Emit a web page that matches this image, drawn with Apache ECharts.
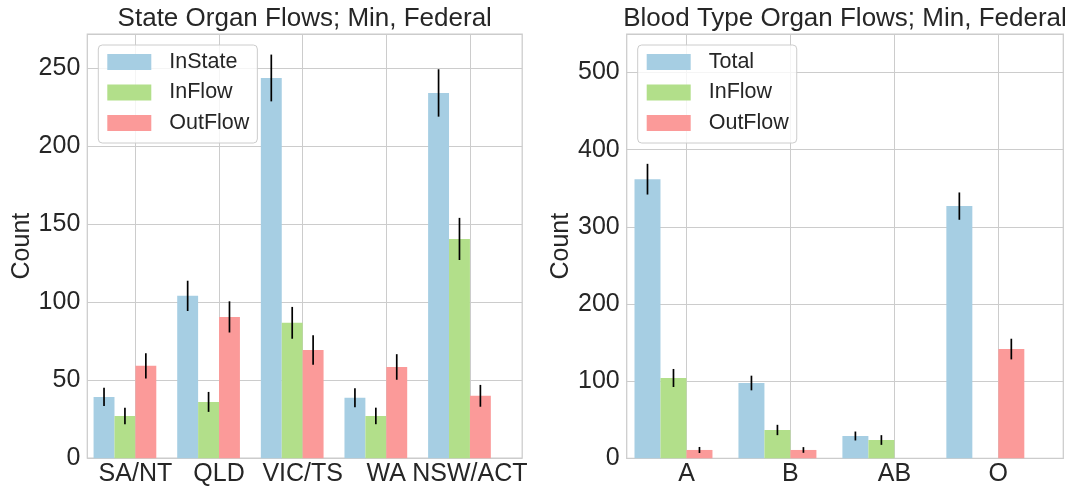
<!DOCTYPE html>
<html><head><meta charset="utf-8">
<script src="https://cdn.jsdelivr.net/npm/echarts@6/dist/echarts.min.js"></script>
<style>html,body{margin:0;padding:0;background:#fff}#c{width:1077px;height:489px}</style>
</head><body><div id="c"></div>
<script>
// ---- Data: left panel (state flows) ----
const stateCategories = ['SA/NT', 'QLD', 'VIC/TS', 'WA', 'NSW/ACT'];
const stateInState    = [39.3, 104.1, 243.8, 38.7, 234.2];
const stateInStateErr = [5.9, 9.7, 15.0, 6.1, 15.2];
const stateInFlow     = [27.1, 36.1, 86.8, 27.1, 140.6];
const stateInFlowErr  = [5.3, 6.4, 10.2, 5.3, 13.5];
const stateOutFlow    = [59.2, 90.6, 69.4, 58.5, 40.0];
const stateOutFlowErr = [8.1, 10.0, 9.5, 8.2, 7.0];
const stateYTicks     = [0, 50, 100, 150, 200, 250];

// ---- Data: right panel (blood type flows) ----
const bloodCategories = ['A', 'B', 'AB', 'O'];
const bloodTotal      = [361.8, 97.6, 28.9, 326.9];
const bloodTotalErr   = [19.9, 9.5, 5.8, 17.7];
const bloodInFlow     = [104.1, 36.7, 23.7, 0];
const bloodInFlowErr  = [11.7, 6.7, 6.3, 0];
const bloodOutFlow    = [10.8, 10.8, 0, 141.6];
const bloodOutFlowErr = [3.9, 3.7, 0, 13.4];
const bloodYTicks     = [0, 100, 200, 300, 400, 500];

// ---- Styling / layout ----
const FONT = "'Liberation Sans', Arial, sans-serif";
const TXT = '#262626';
const GRIDC = '#cccccc';
const COLORS = ['#a6cee3', '#b2df8a', '#fb9a99'];
const OFFSETS = [-0.375, -0.125, 0.125];
const panels = [
  {left: 87.3, right: 522.2, top: 34, bottom: 458.2, ymax: 272, interval: 50,
   cats: stateCategories, ticks: stateYTicks,
   names: ['InState', 'InFlow', 'OutFlow'],
   vals: [stateInState, stateInFlow, stateOutFlow],
   errs: [stateInStateErr, stateInFlowErr, stateOutFlowErr],
   title: 'State Organ Flows; Min, Federal'},
  {left: 626.7, right: 1063.3, top: 34, bottom: 458.3, ymax: 550, interval: 100,
   cats: bloodCategories, ticks: bloodYTicks,
   names: ['Total', 'InFlow', 'OutFlow'],
   vals: [bloodTotal, bloodInFlow, bloodOutFlow],
   errs: [bloodTotalErr, bloodInFlowErr, bloodOutFlowErr],
   title: 'Blood Type Organ Flows; Min, Federal'}
];

const grid = [], xAxis = [], yAxis = [], series = [], title = [], legend = [];
panels.forEach((p, pi) => {
  const n = p.cats.length;
  const xmin = -0.575, xmax = n - 0.375;
  const pxPerUnit = (p.right - p.left) / (xmax - xmin);
  grid.push({left: p.left, top: p.top, width: p.right - p.left, height: p.bottom - p.top,
    show: true, borderColor: GRIDC, borderWidth: 1.25, backgroundColor: '#fff', containLabel: false});
  xAxis.push({type: 'value', gridIndex: pi, min: xmin, max: xmax,
    axisLine: {show: false},
    axisTick: {show: false, customValues: p.cats.map((c, i) => i)},
    axisLabel: {customValues: p.cats.map((c, i) => i), formatter: v => p.cats[Math.round(v)],
      fontSize: 25, color: TXT, fontFamily: FONT, margin: 3},
    splitLine: {show: true, lineStyle: {color: GRIDC, width: 1}}});
  yAxis.push({type: 'value', gridIndex: pi, min: 0, max: p.ymax, interval: p.interval,
    name: 'Count', nameLocation: 'middle', nameGap: 52,
    nameTextStyle: {fontSize: 25, color: TXT, fontFamily: FONT},
    axisLine: {show: false}, axisTick: {show: false},
    axisLabel: {fontSize: 25, color: TXT, fontFamily: FONT, margin: 7, showMaxLabel: false},
    splitLine: {show: true, lineStyle: {color: GRIDC, width: 1}}});
  title.push({text: p.title, left: (p.left + p.right) / 2, top: 6, textAlign: 'center', padding: 0,
    textStyle: {fontSize: 26, fontWeight: 'normal', color: TXT, fontFamily: FONT}});
  legend.push({data: p.names, orient: 'vertical', left: p.left + 11, top: 45,
    icon: 'rect', itemWidth: 44, itemHeight: 16, itemGap: 6.5,
    padding: [5, 8, 8, 9], backgroundColor: 'rgba(255,255,255,0.8)',
    borderColor: GRIDC, borderWidth: 1, borderRadius: 4,
    textStyle: {fontSize: 21.5, color: TXT, fontFamily: FONT, lineHeight: 24, padding: [0, 0, 0, 13]},
    selectedMode: false});
  p.names.forEach((name, k) => {
    series.push({type: 'bar', name: name, xAxisIndex: pi, yAxisIndex: pi,
      barWidth: 0.25 * pxPerUnit, barGap: '-100%', silent: true,
      itemStyle: {color: COLORS[k]},
      data: p.vals[k].map((v, i) => [i + OFFSETS[k], v])});
  });
  p.names.forEach((name, k) => {
    series.push({type: 'custom', xAxisIndex: pi, yAxisIndex: pi, silent: true, z: 5,
      clip: false,
      data: p.vals[k].map((v, i) => [i + OFFSETS[k], v, p.errs[k][i]]),
      renderItem: (params, api) => {
        const x = api.value(0), v = api.value(1), e = api.value(2);
        if (!e) return null;
        const a = api.coord([x, v - e]), b = api.coord([x, v + e]);
        return {type: 'line', shape: {x1: a[0], y1: a[1], x2: b[0], y2: b[1]},
          style: {stroke: '#000', lineWidth: 1.7}};
      }});
  });
});

const chart = echarts.init(document.getElementById('c'), null, {renderer: 'canvas'});
chart.setOption({animation: false, backgroundColor: '#fff', title, legend, grid, xAxis, yAxis, series});
</script></body></html>
